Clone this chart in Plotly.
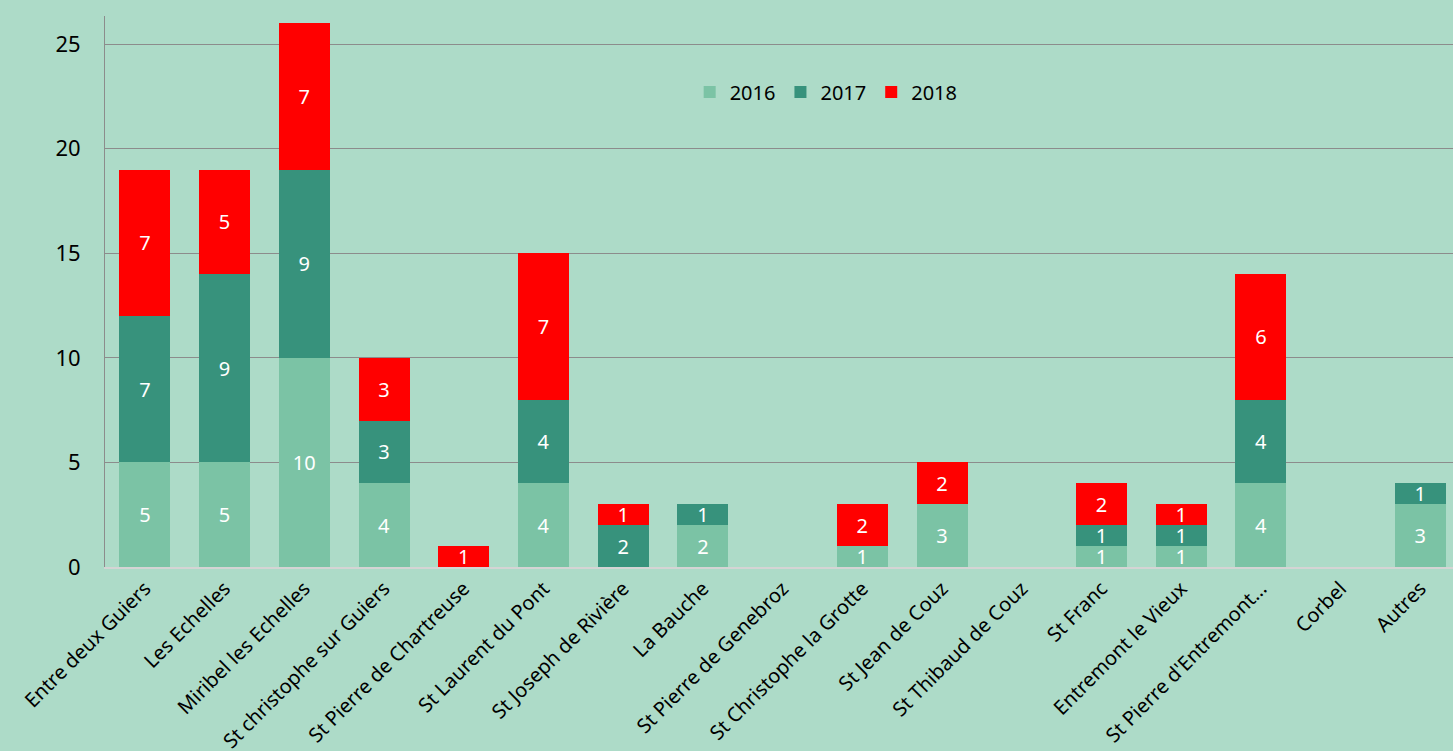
import plotly.graph_objects as go

categories = ["Entre deux Guiers", "Les Echelles", "Miribel les Echelles", "St christophe sur Guiers",
              "St Pierre de Chartreuse", "St Laurent du Pont", "St Joseph de Rivière", "La Bauche",
              "St Pierre de Genebroz", "St Christophe la Grotte", "St Jean de Couz", "St Thibaud de Couz",
              "St Franc", "Entremont le Vieux", "St Pierre d'Entremont…", "Corbel", "Autres"]
v2016 = [5, 5, 10, 4, 0, 4, 0, 2, 0, 1, 3, 0, 1, 1, 4, 0, 3]
v2017 = [7, 9, 9, 3, 0, 4, 2, 1, 0, 0, 0, 0, 1, 1, 4, 0, 1]
v2018 = [7, 5, 7, 3, 1, 7, 1, 0, 0, 2, 2, 0, 2, 1, 6, 0, 0]
years = ["2016", "2017", "2018"]
colors = ["#7bc3a5", "#37927c", "#ff0000"]
ytick_vals = [0, 5, 10, 15, 20, 25]

BG = "#addbc8"
fig = go.Figure()
for name, vals, col in zip(years, [v2016, v2017, v2018], colors):
    y = [v if v else None for v in vals]
    fig.add_trace(go.Bar(
        x=categories, y=y, name=name,
        marker=dict(color=col, line=dict(width=0)),
        text=[str(v) if v else "" for v in vals],
        textposition="inside", insidetextanchor="middle", textangle=0,
        textfont=dict(color="white", size=20, family="Noto Sans"),
        hoverinfo="x+y+name",
    ))

fig.update_layout(
    barmode="stack", bargap=0.36,
    width=1453, height=751,
    paper_bgcolor=BG, plot_bgcolor=BG,
    margin=dict(l=105, r=0, t=16, b=184, autoexpand=False),
    font=dict(family="Noto Sans", color="black", size=20),
    uniformtext=dict(minsize=19, mode="show"),
    legend=dict(orientation="h", x=0.535, xanchor="center", y=0.862, yanchor="middle",
                bgcolor="rgba(0,0,0,0)", font=dict(size=20), traceorder="normal",
                itemwidth=30),
    xaxis=dict(range=[-0.5, 16.41], tickangle=-45, showgrid=False, automargin=False,
               showline=True, linecolor="#d4d4d4", linewidth=2,
               tickfont=dict(size=20, family="Noto Sans"), ticks=""),
    yaxis=dict(range=[0, 26.34], tickvals=ytick_vals, showgrid=True, automargin=False,
               gridcolor="#8c8c8c", gridwidth=1, zeroline=False,
               showline=True, linecolor="#8c8c8c", linewidth=1,
               ticklabelstandoff=19, tickfont=dict(size=22, family="Noto Sans")),
)
fig.write_html("out.html", config={"displayModeBar": False},
               post_script="document.body.style.margin='0';document.body.style.padding='0';"
                           "document.body.style.overflow='hidden';")
